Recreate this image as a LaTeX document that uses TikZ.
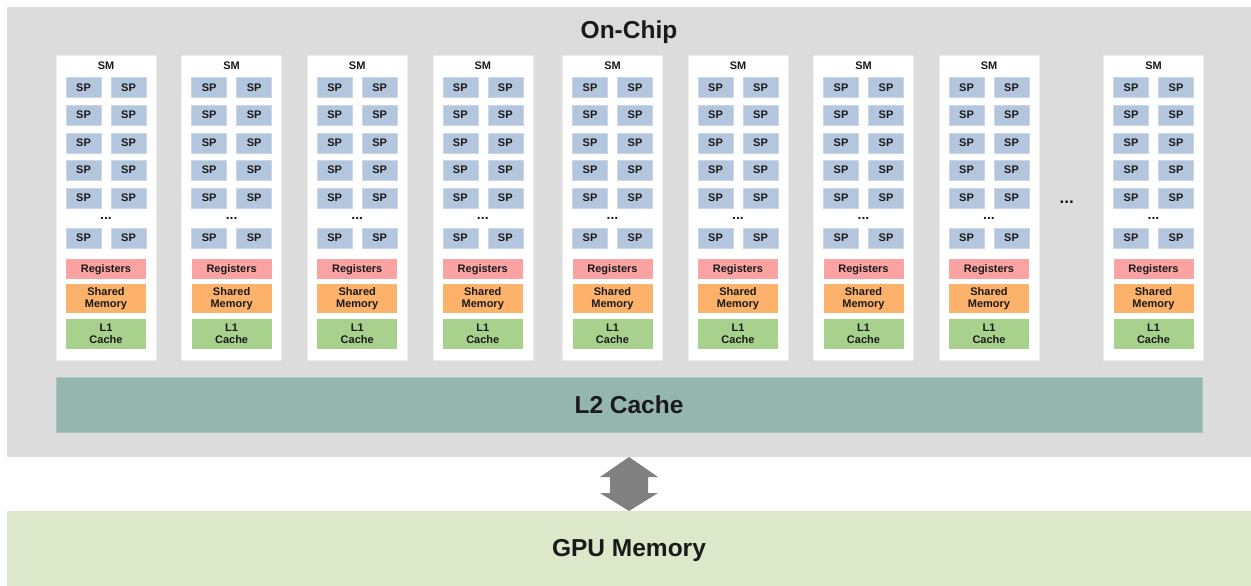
\documentclass[tikz,border=0pt]{standalone}
\usepackage{fontspec}
\setmainfont{Liberation Sans}
\definecolor{chipgray}{HTML}{DCDCDC}
\definecolor{spblue}{HTML}{B3C6DD}
\definecolor{regpink}{HTML}{FBA3A3}
\definecolor{shmorange}{HTML}{FCB26A}
\definecolor{lonegreen}{HTML}{A9D18E}
\definecolor{ltwoteal}{HTML}{95B6AF}
\definecolor{gpugreen}{HTML}{DDE7CA}
\definecolor{arrowgray}{HTML}{808080}
\definecolor{txt}{HTML}{1A1A1A}
\tikzset{
  blk/.style={inner sep=0pt, outer sep=0pt, text=txt, font=\bfseries\fontsize{11}{12}\selectfont, align=center},
  smbox/.style={blk, fill=white, draw=white!93!black, line width=0.4pt, minimum width=100pt, minimum height=305pt},
  spbox/.style={blk, fill=spblue, draw=spblue!70!white, line width=0.4pt, minimum width=35pt, minimum height=20pt},
  regbox/.style={blk, fill=regpink, minimum width=80pt, minimum height=20pt},
  shmbox/.style={blk, fill=shmorange, minimum width=80pt, minimum height=29.5pt},
  lonebox/.style={blk, fill=lonegreen, minimum width=80pt, minimum height=30pt},
  bigtext/.style={inner sep=0pt, text=txt, font=\bfseries\fontsize{24.5}{28}\selectfont},
  dotslabel/.style={inner sep=0pt, outer sep=0pt, text=txt, anchor=base, font=\bfseries\fontsize{14}{16}\selectfont}
}
\begin{document}
\begin{tikzpicture}[x=1pt,y=-1pt]
\useasboundingbox (0,0) rectangle (1251,586);
% on-chip region
\node[inner sep=0, outer sep=0, fill=chipgray, minimum width=1244pt, minimum height=450pt] (onchip) at (629,232) {};
\node[bigtext] (onchiplabel) at (629,32) {On-Chip};
% GPU memory
\node[inner sep=0, outer sep=0, fill=gpugreen, minimum width=1244pt, minimum height=75pt] (gpumem) at (629,548.5) {};
\node[bigtext] (gpulabel) at (629,550) {GPU Memory};
% L2 cache
\node[inner sep=0, outer sep=0, fill=ltwoteal, draw=ltwoteal!80!white, line width=0.4pt, minimum width=1146pt, minimum height=55.5pt] (ltwo) at (629,404.5) {};
\node[bigtext] (ltwolabel) at (629,404.5) {L2 Cache};
% SMs
\foreach \xo/\k in {56/1,181.6/2,307.2/3,432.8/4,562.5/5,688/6,813.5/7,939/8,1103.5/9}{
  \node[smbox] (sm\k) at (\xo+50,207.5) {};
  \node[blk] (smlabel\k) at (\xo+50,65.5) {SM};
  \foreach \yc/\r in {87.7/1,115.2/2,142.7/3,170.2/4,197.7/5,237.7/6}{
    \node[spbox] (sp\k-\r-a) at (\xo+27.5,\yc) {SP};
    \node[spbox] (sp\k-\r-b) at (\xo+72.5,\yc) {SP};
  }
  \node[dotslabel] (spdots\k) at (\xo+50,219) {...};
  \node[regbox] (reg\k) at (\xo+50,269.2) {Registers};
  \node[shmbox] (shm\k) at (\xo+50,298.5) {Shared\\Memory};
  \node[lonebox] (lone\k) at (\xo+50,334) {L1\\Cache};
}
\node[dotslabel, font=\bfseries\fontsize{17}{18}\selectfont] (smdots) at (1066.7,203) {...};
% double arrow between on-chip and GPU memory
\coordinate (atop) at (629,457);
\coordinate (abot) at (629,511);
\fill[arrowgray] (atop) -- ++(29,20) -- ++(-10,0) -- ++(0,16) -- ++(10,0) -- (abot)
  -- ++(-29,-18) -- ++(10,0) -- ++(0,-16) -- ++(-10,0) -- cycle;
\end{tikzpicture}
\end{document}
